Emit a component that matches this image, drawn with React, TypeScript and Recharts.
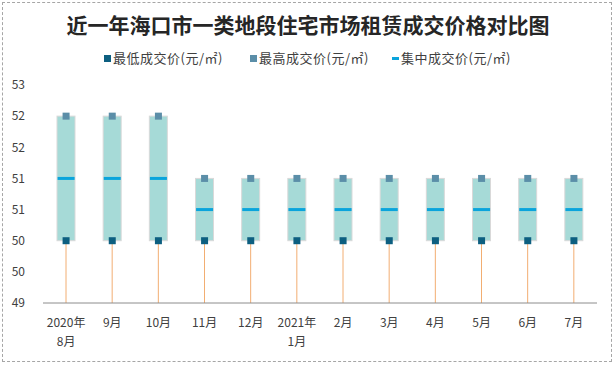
import React from 'react'
import { ComposedChart, Bar, Line, XAxis, YAxis } from 'recharts'

// 近一年海口市一类地段住宅市场租赁成交价格
const months = ['2020年\n8月', '9月', '10月', '11月', '12月', '2021年\n1月', '2月', '3月', '4月', '5月', '6月', '7月']
const minPrice = [50, 50, 50, 50, 50, 50, 50, 50, 50, 50, 50, 50]
const maxPrice = [52, 52, 52, 51, 51, 51, 51, 51, 51, 51, 51, 51]
const midPrice = [51, 51, 51, 50.5, 50.5, 50.5, 50.5, 50.5, 50.5, 50.5, 50.5, 50.5]
const yTicks = [49, 49.5, 50, 50.5, 51, 51.5, 52, 52.5]

const AXIS_FLOOR = 49
const FONT = '"Noto Sans CJK SC", "Noto Sans", sans-serif'

const data = months.map((m, i) => ({
  name: m,
  min: minPrice[i],
  max: maxPrice[i],
  mid: midPrice[i],
  stem: [AXIS_FLOOR, minPrice[i]],
  box: [minPrice[i], maxPrice[i]],
}))

const COLORS = {
  min: '#0d5f80',
  max: '#5b8ea8',
  mid: '#0aa4dc',
  box: '#a6dad7',
  boxEdge: '#d9d9d9',
  stem: '#f2ae72',
  axis: '#8c8c8c',
  text: '#404040',
}

const StemShape = (p: any) => {
  const cx = p.x + p.width / 2
  return <line x1={cx} x2={cx} y1={p.y} y2={p.y + p.height} stroke={COLORS.stem} strokeWidth={1} />
}

const BoxShape = (p: any) => (
  <rect x={p.x} y={p.y} width={p.width} height={p.height} fill={COLORS.box} stroke={COLORS.boxEdge} strokeWidth={1} />
)

const squareDot = (color: string) => (p: any) => {
  if (p.cx == null || p.cy == null) return <g key={p.index} />
  return <rect key={p.index} x={p.cx - 3.5} y={p.cy - 3.5} width={7} height={7} fill={color} />
}

const midDot = (p: any) => {
  if (p.cx == null || p.cy == null) return <g key={p.index} />
  return <rect key={p.index} x={p.cx - 8.5} y={p.cy - 1.5} width={17} height={3} fill={COLORS.mid} />
}

const MonthTick = (p: any) => {
  const lines = String(p.payload.value).split('\n')
  return (
    <text x={p.x} y={p.y} textAnchor="middle" fill={COLORS.text} fontSize={12} fontFamily={FONT}>
      {lines.map((l, i) => (
        <tspan key={i} x={p.x} dy={i === 0 ? 24 : 19}>
          {l}
        </tspan>
      ))}
    </text>
  )
}

const legendItems = [
  { label: '最低成交价(元/㎡)', color: COLORS.min, kind: 'square', left: 104 },
  { label: '最高成交价(元/㎡)', color: COLORS.max, kind: 'square', left: 250 },
  { label: '集中成交价(元/㎡)', color: COLORS.mid, kind: 'dash', left: 392 },
]

export default function App() {
  return (
    <div style={{ position: 'absolute', left: 0, top: 0, width: 616, height: 366, background: '#fff', fontFamily: FONT }}>
      <div
        style={{
          position: 'absolute',
          left: 2,
          top: 2,
          width: 608,
          height: 358,
          border: '1px dashed #a6a6a6',
        }}
      />
      <div
        style={{
          position: 'absolute',
          top: 10,
          left: 0,
          width: 616,
          textAlign: 'center',
          fontSize: 21,
          lineHeight: '28px',
          fontWeight: 'bold',
          color: '#262626',
        }}
      >
        近一年海口市一类地段住宅市场租赁成交价格对比图
      </div>
      {legendItems.map((it) => (
        <div
          key={it.label}
          style={{
            position: 'absolute',
            top: 49,
            left: it.left,
            fontSize: 13,
            lineHeight: '18px',
            letterSpacing: 0.5,
            color: COLORS.text,
            display: 'flex',
            alignItems: 'center',
          }}
        >
          {it.kind === 'square' ? (
            <span style={{ display: 'inline-block', width: 7, height: 7, background: it.color, marginRight: 2 }} />
          ) : (
            <span style={{ display: 'inline-block', width: 7, height: 3, background: it.color, marginRight: 2 }} />
          )}
          {it.label}
        </div>
      ))}
      <div style={{ position: 'absolute', left: 0, top: 0 }}>
        <ComposedChart width={616} height={366} data={data} margin={{ top: 85, right: 19, bottom: 33, left: 0 }}>
          <XAxis
            xAxisId="a"
            dataKey="name"
            height={30}
            axisLine={{ stroke: COLORS.axis }}
            tickLine={false}
            tickSize={0}
            tickMargin={0}
            interval={0}
            tick={<MonthTick />}
          />
          <XAxis xAxisId="b" dataKey="name" hide />
          <YAxis
            domain={[49, 52.5]}
            ticks={yTicks}
            axisLine={false}
            tickLine={false}
            tickSize={0}
            tickMargin={18}
            width={43}
            tickFormatter={(v: number) => String(Math.round(v))}
            tick={{ fill: COLORS.text, fontSize: 12, fontFamily: FONT }}
          />
          <Bar xAxisId="a" dataKey="stem" barSize={18} shape={<StemShape />} isAnimationActive={false} />
          <Bar xAxisId="b" dataKey="box" barSize={18} shape={<BoxShape />} isAnimationActive={false} />
          <Line xAxisId="a" dataKey="mid" stroke="none" dot={midDot} activeDot={false} isAnimationActive={false} />
          <Line xAxisId="a" dataKey="max" stroke="none" dot={squareDot(COLORS.max)} activeDot={false} isAnimationActive={false} />
          <Line xAxisId="a" dataKey="min" stroke="none" dot={squareDot(COLORS.min)} activeDot={false} isAnimationActive={false} />
        </ComposedChart>
      </div>
    </div>
  )
}
